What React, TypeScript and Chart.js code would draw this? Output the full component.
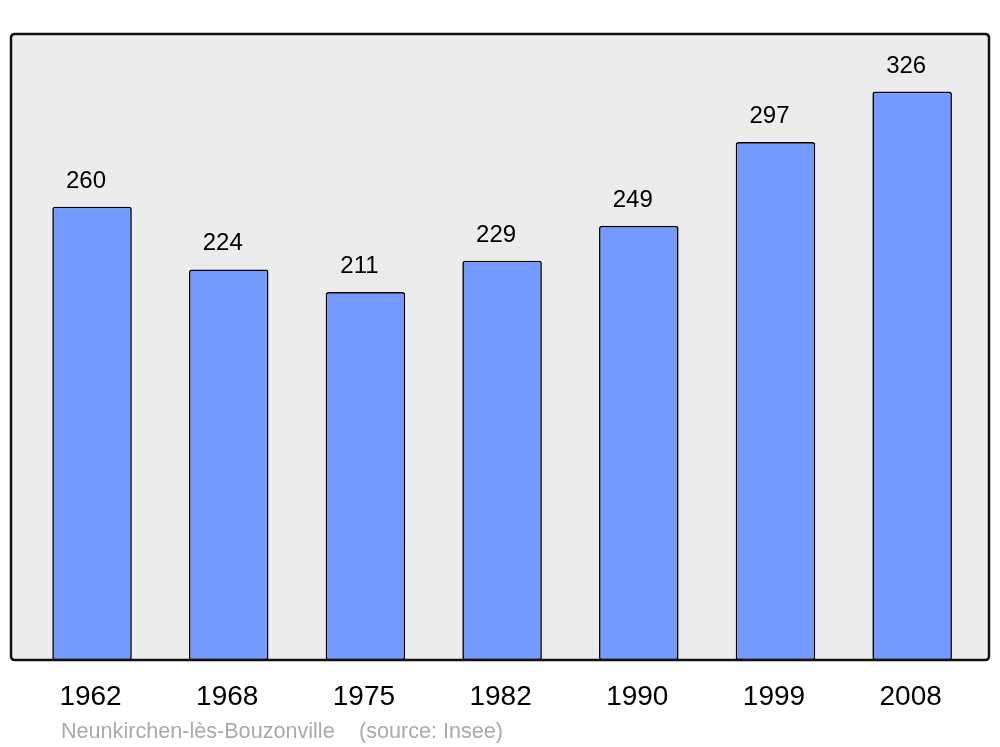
import React, { useEffect, useRef } from "react";
import { Chart, registerables } from "chart.js";

Chart.register(...registerables);

const years: string[] = ["1962", "1968", "1975", "1982", "1990", "1999", "2008"];
const population: number[] = [260, 224, 211, 229, 249, 297, 326];
const placeName = "Neunkirchen-lès-Bouzonville";
const sourceText = "(source: Insee)";

const FONT = '"Liberation Sans", Arial, Helvetica, sans-serif';

function roundRectPath(ctx: CanvasRenderingContext2D, x: number, y: number, w: number, h: number, r: number) {
  ctx.beginPath();
  ctx.moveTo(x + r, y);
  ctx.lineTo(x + w - r, y);
  ctx.quadraticCurveTo(x + w, y, x + w, y + r);
  ctx.lineTo(x + w, y + h - r);
  ctx.quadraticCurveTo(x + w, y + h, x + w - r, y + h);
  ctx.lineTo(x + r, y + h);
  ctx.quadraticCurveTo(x, y + h, x, y + h - r);
  ctx.lineTo(x, y + r);
  ctx.quadraticCurveTo(x, y, x + r, y);
  ctx.closePath();
}

const framePlugin = {
  id: "frame",
  beforeDatasetsDraw(chart: any) {
    const ctx = chart.ctx as CanvasRenderingContext2D;
    const { top, bottom } = chart.chartArea;
    ctx.save();
    roundRectPath(ctx, 11, top, 978, bottom - top, 4);
    ctx.fillStyle = "#ececec";
    ctx.fill();
    ctx.restore();
  },
  afterDatasetsDraw(chart: any) {
    const ctx = chart.ctx as CanvasRenderingContext2D;
    const { top, bottom } = chart.chartArea;
    ctx.save();
    roundRectPath(ctx, 11, top, 978, bottom - top, 4);
    ctx.lineWidth = 2.5;
    ctx.strokeStyle = "#111111";
    ctx.stroke();

    const meta = chart.getDatasetMeta(0);
    const xScale = chart.scales.x;
    ctx.fillStyle = "#000000";
    ctx.textAlign = "center";
    ctx.textBaseline = "alphabetic";
    ctx.font = `24px ${FONT}`;
    meta.data.forEach((bar: any, i: number) => {
      ctx.fillText(String(population[i]), bar.x - 6, bar.y - 19);
    });
    ctx.font = `28px ${FONT}`;
    years.forEach((y, i) => {
      ctx.fillText(y, xScale.getPixelForValue(i) - 1.5, 705);
    });
    ctx.fillStyle = "#aaaaaa";
    ctx.textAlign = "left";
    ctx.font = `21.6px ${FONT}`;
    ctx.fillText(placeName, 61, 737.5);
    ctx.fillText(sourceText, 359, 737.5);
    ctx.restore();
  },
};

export default function App() {
  const ref = useRef<HTMLCanvasElement | null>(null);
  useEffect(() => {
    if (!ref.current) return;
    const chart = new Chart(ref.current, {
      type: "bar",
      data: {
        labels: years,
        datasets: [
          {
            data: population,
            backgroundColor: "#7499ff",
            borderColor: "#000000",
            borderWidth: 1.6,
            borderRadius: 2.5,
            borderSkipped: false,
            barPercentage: 0.582,
            categoryPercentage: 1,
          },
        ],
      },
      options: {
        animation: false,
        responsive: false,
        devicePixelRatio: 1,
        layout: { padding: { left: 23.7, right: 19.5, top: 34, bottom: 87 } },
        plugins: { legend: { display: false }, tooltip: { enabled: false }, title: { display: false } },
        scales: {
          x: { display: false },
          y: { display: false, min: 0, max: 359 },
        },
      },
      plugins: [framePlugin],
    });
    return () => chart.destroy();
  }, []);
  return (
    <div style={{ position: "fixed", left: 0, top: 0, width: 1000, height: 747, background: "#ffffff" }}>
      <canvas ref={ref} width={1000} height={747} style={{ display: "block" }} />
    </div>
  );
}
